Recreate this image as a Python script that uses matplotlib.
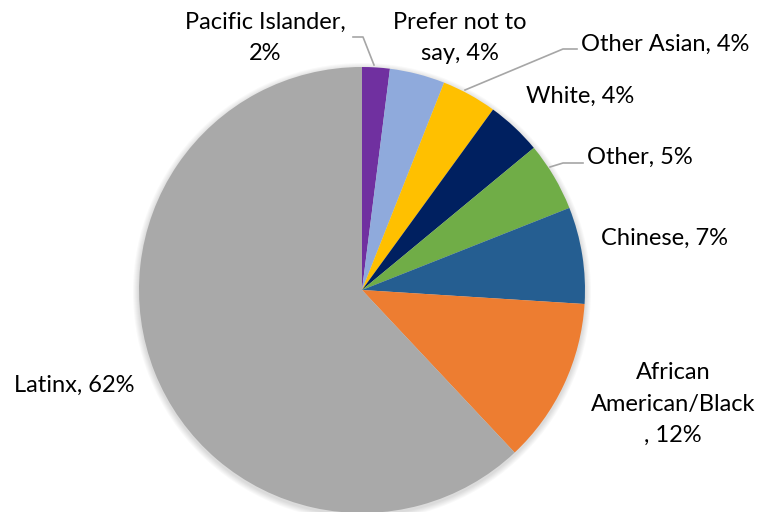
import matplotlib
matplotlib.use("Agg")
import matplotlib.pyplot as plt
from matplotlib.patches import Circle

# survey breakdown, clockwise from 12 o'clock
groups = ["Pacific Islander", "Prefer not to say", "Other Asian", "White",
          "Other", "Chinese", "African American/Black", "Latinx"]
shares = [2, 4, 4, 4, 5, 7, 12, 62]
colors = ["#7030A0", "#8FAADC", "#FFC000", "#002060",
          "#70AD47", "#255E91", "#ED7D31", "#A9A9A9"]

plt.rcParams["font.family"] = ["Lato", "DejaVu Sans"]

W, H = 759, 512
fig = plt.figure(figsize=(W / 100, H / 100), dpi=100)
ax = fig.add_axes([0, 0, 1, 1])


def y(py):
    # pixel row (from top) to data y
    return H - py


cx, cy, r = 362, y(290), 223

# soft drop shadow behind the pie
for k in range(6):
    ax.add_patch(Circle((cx, cy - 2), r + 1 + k, color="black",
                        alpha=0.025, lw=0, zorder=0))

ax.pie(shares, colors=colors, startangle=90, counterclock=False,
       center=(cx, cy), radius=r, wedgeprops=dict(linewidth=0),
       frame=True)

ax.set_xlim(0, W)
ax.set_ylim(0, H)
ax.set_aspect("equal")
ax.axis("off")

fs = 17
txt = dict(fontsize=fs, color="black", va="center")

ax.text(265, y(38), "Pacific Islander,\n2%", ha="center", linespacing=1.6, **txt)
ax.text(460, y(38), "Prefer not to\nsay, 4%", ha="center", linespacing=1.6, **txt)
ax.text(581, y(44), "Other Asian, 4%", ha="left", **txt)
ax.text(526, y(96), "White, 4%", ha="left", **txt)
ax.text(587, y(157), "Other, 5%", ha="left", **txt)
ax.text(601, y(238), "Chinese, 7%", ha="left", **txt)
ax.text(673, y(404), "African\nAmerican/Black\n, 12%", ha="center",
        linespacing=1.6, **txt)
ax.text(14, y(385), "Latinx, 62%", ha="left", **txt)

# leader lines
lc = dict(color="#A6A6A6", lw=1.2, zorder=5)
ax.plot([353, 363, 374], [y(37), y(37), y(65)], **lc)
ax.plot([577, 563, 465], [y(49), y(49), y(90)], **lc)
ax.plot([583, 563, 550], [y(163), y(163), y(167)], **lc)

fig.savefig("out.png", dpi=100)
